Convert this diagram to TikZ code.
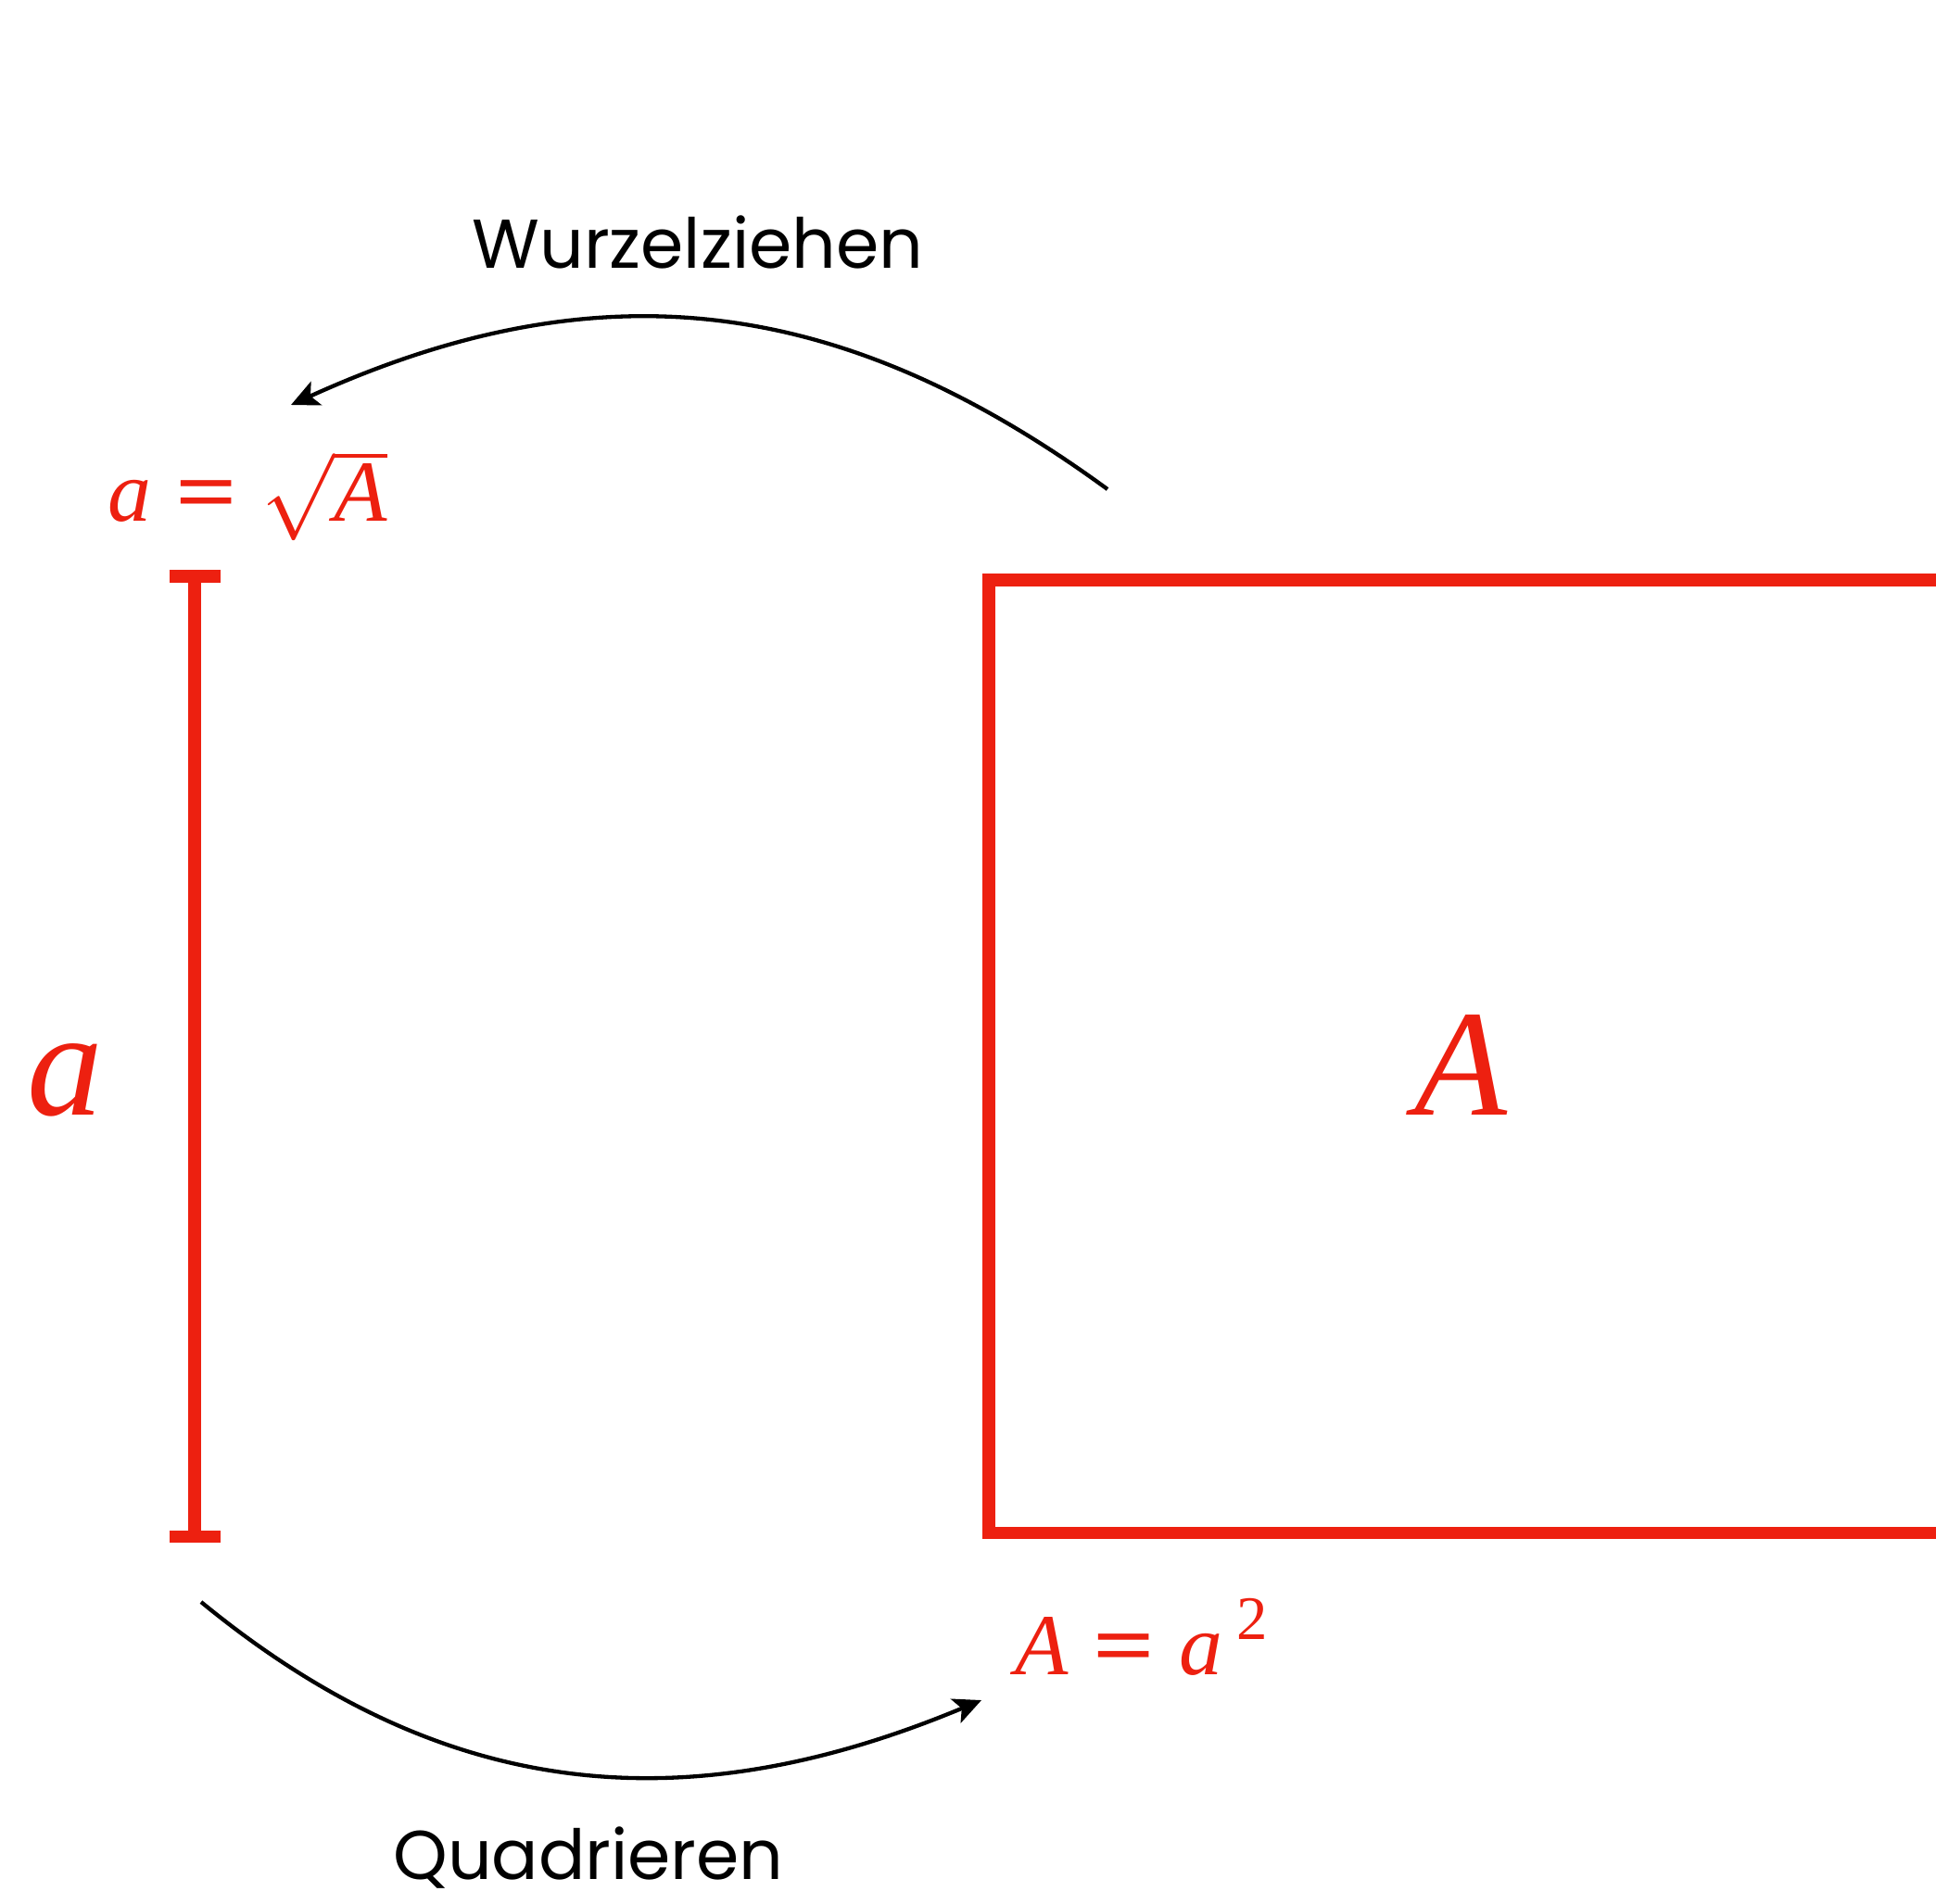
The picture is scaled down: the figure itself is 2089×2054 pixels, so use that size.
\documentclass[tikz,border=0pt]{standalone}
\RequirePackage{fix-cm}
\usepackage{amsmath}
\usepackage{graphicx}
\usepackage[no-math]{fontspec}
\setmainfont{Poppins}
\newfontfamily\tms{Liberation Serif}
\usetikzlibrary{arrows.meta}
\definecolor{sqred}{RGB}{237,32,16}
\newcommand{\fequals}{\mathrel{\scalebox{1.25}[1]{\mbox{\tms\bfseries =}}}}
\tikzset{
  redline/.style={draw=sqred, line width=0.135cm},
  bend arrow/.style={draw=black, line width=0.043cm, -{Stealth[length=0.3cm,width=0.28cm,inset=0.07cm]}},
  opname/.style={font=\fontsize{21.2}{24}\selectfont, anchor=base, inner sep=0pt},
  formula/.style={text=sqred, font=\fontsize{26.7}{30}\selectfont, anchor=base, inner sep=0pt},
  bigletter/.style={text=sqred, font=\fontsize{46.5}{50}\selectfont\tms\itshape, anchor=base, inner sep=0pt}
}
\begin{document}
\begin{tikzpicture}[x=0.01cm, y=-0.01cm]
  \clip (0,0) rectangle (2089,2054);
  \fill[white] (0,0) rectangle (2089,2054);
  % segment a
  \coordinate (barTop) at (210,622);
  \coordinate (barBot) at (210,1658.5);
  \draw[redline] (barTop) -- (barBot);
  \draw[redline] ([xshift=-0.27cm]barTop) -- ([xshift=0.28cm]barTop);
  \draw[redline] ([xshift=-0.27cm]barBot) -- ([xshift=0.28cm]barBot);
  % square A
  \node[redline, rectangle, minimum size=10.275cm, inner sep=0pt, outer sep=0pt] (sq) at (1581.25,1140.25) {};
  % labels
  \node[bigletter] (la) at (70,1203) {a};
  \node[bigletter] (lA) at (1576,1203) {A};
  \node[formula] (froot) at (267,562) {$\mbox{\tms\itshape a}\fequals\sqrt{\mbox{\tms\itshape A}\vphantom{\mbox{\tms\itshape Ag}}}$};
  \node[formula] (fsq) at (1232,1807) {$\mbox{\tms\itshape A}\fequals\mbox{\tms\itshape a\,\raisebox{0.4em}{\fontsize{19}{20}\selectfont\upshape 2}}$};
  \node[opname] (wz) at (753,289) {Wurzelziehen};
  \node[opname] (qd) at (635,2028) {Quadrieren};
  % arrows
  \coordinate (wzStart) at (1195,528);
  \coordinate (wzEnd) at (314,437);
  \coordinate (qdStart) at (217,1729);
  \coordinate (qdEnd) at (1059,1835);
  \draw[bend arrow] (wzStart) .. controls (905,316) and (644,287) .. (wzEnd);
  \draw[bend arrow] (qdStart) .. controls (480,1945) and (740,1968) .. (qdEnd);
\end{tikzpicture}
\end{document}
